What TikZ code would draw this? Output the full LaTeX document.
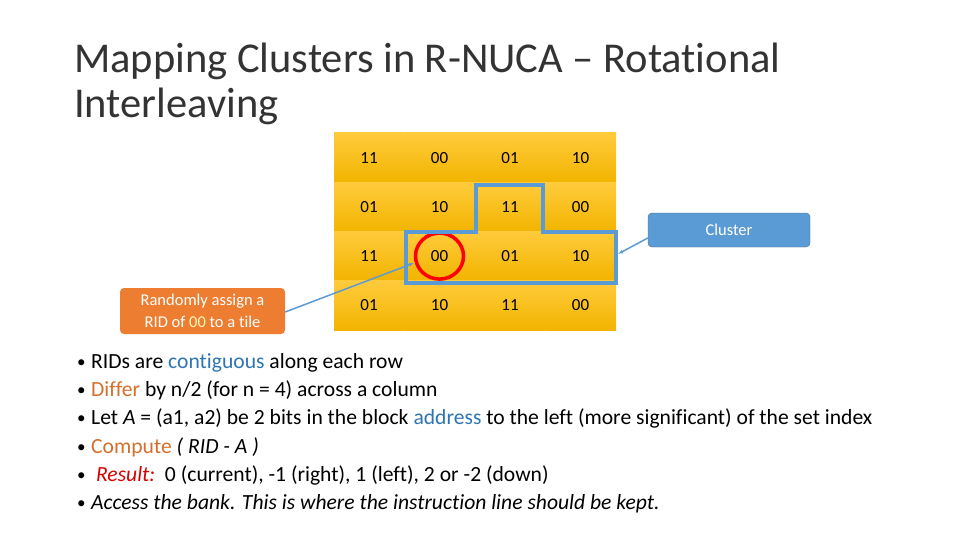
\documentclass[tikz,border=0pt]{standalone}
\usepackage{fontspec}
\setmainfont{Carlito}[Ligatures=CommonOff]
\usetikzlibrary{arrows.meta}
\definecolor{acc}{HTML}{5B9BD5}
\definecolor{txtblue}{HTML}{2E75B6}
\definecolor{orng}{HTML}{ED7D31}
\definecolor{cellA}{HTML}{FFCB3C}
\definecolor{cellB}{HTML}{F2B400}
\begin{document}
\begin{tikzpicture}[x=1pt,y=-1pt,
  cell/.style={font=\fontsize{17}{20}\selectfont},
  bul/.style={anchor=base west,font=\fontsize{21.6}{24}\selectfont,inner sep=0},
  callout/.style={rounded corners=4pt,text=white,align=center}]
\useasboundingbox (0,0) rectangle (960,540);
\fill[white] (0,0) rectangle (960,540);
\node[anchor=base west,inner sep=0,font=\fontsize{42.5}{48}\selectfont,text=black!80] (t1) at (74,73) {Mapping Clusters in R-NUCA -- Rotational};
\node[anchor=base west,inner sep=0,font=\fontsize{42.5}{48}\selectfont,text=black!80] (t2) at (74,118) {Interleaving};
% grid
\foreach \r in {0,1,2,3}{
  \foreach \c in {0,1,2,3}{
    \shade[top color=cellA,bottom color=cellB] (334+\c*70.5,133+\r*49.25) rectangle (334+\c*70.5+70.5,133+\r*49.25+49.25);
  }}
\foreach \r/\a/\b/\cc/\d in {0/11/00/01/10,1/01/10/11/00,2/11/00/01/10,3/01/10/11/00}{
  \node[cell] (c\r a) at (369,157.6+\r*49.25) {\a};
  \node[cell] (c\r b) at (439.5,157.6+\r*49.25) {\b};
  \node[cell] (c\r c) at (510,157.6+\r*49.25) {\cc};
  \node[cell] (c\r d) at (580.5,157.6+\r*49.25) {\d};
}
\draw[red,line width=3.5pt] (c2b) ellipse (24 and 23);
\draw[acc,line width=3.5pt] (406,232) -- (476,232) -- (476,185) -- (543,185) -- (543,232) -- (616,232) -- (616,283) -- (406,283) -- cycle;
\coordinate (rtip) at (414,263);
\coordinate (ctip) at (618,254);
\node[callout,fill=acc,draw=acc!70!black,minimum width=162,minimum height=34,font=\fontsize{16.5}{20}\selectfont] (cl) at (729,230) {Cluster};
\node[callout,fill=orng,minimum width=165,minimum height=46,font=\fontsize{16.5}{22}\selectfont] (rnd) at (202.5,311) {Randomly assign a\\RID of \textcolor{yellow!30}{00} to a tile};
\draw[acc,line width=1.5pt,-{Latex[length=5pt]}] (rnd.east) ++(0,1) -- (rtip);
\draw[acc,line width=1.5pt,-{Latex[length=5pt]}] (cl.west) ++(0,8) -- (ctip);
% bullets
\foreach \i/\y in {1/368,2/396,3/424.5,4/453,5/481,6/509.5}{
  \node[bul,font=\fontsize{17}{20}\selectfont] (d\i) at (77,\y-1) {\textbullet};
}
\node[bul] (b1) at (91,368) {RIDs are \textcolor{txtblue}{contiguous} along each row};
\node[bul] (b2) at (91,396) {\textcolor{orng!90!black}{Differ} by n/2 (for n = 4) across a column};
\node[bul] (b3) at (91,424.5) {Let \textit{A} = (a1, a2) be 2 bits in the block \textcolor{txtblue}{address} to the left (more significant) of the set index};
\node[bul] (b4) at (91,453) {\textcolor{orng!90!black}{Compute} \textit{( RID - A )}};
\node[bul] (b5) at (91,481) {\ \textit{\textcolor{red!85!black}{Result:}}\ \ 0 (current), -1 (right), 1 (left), 2 or -2 (down)};
\node[bul] (b6) at (91,509.5) {\textit{Access the bank. This is where the instruction line should be kept.}};
\end{tikzpicture}
\end{document}
